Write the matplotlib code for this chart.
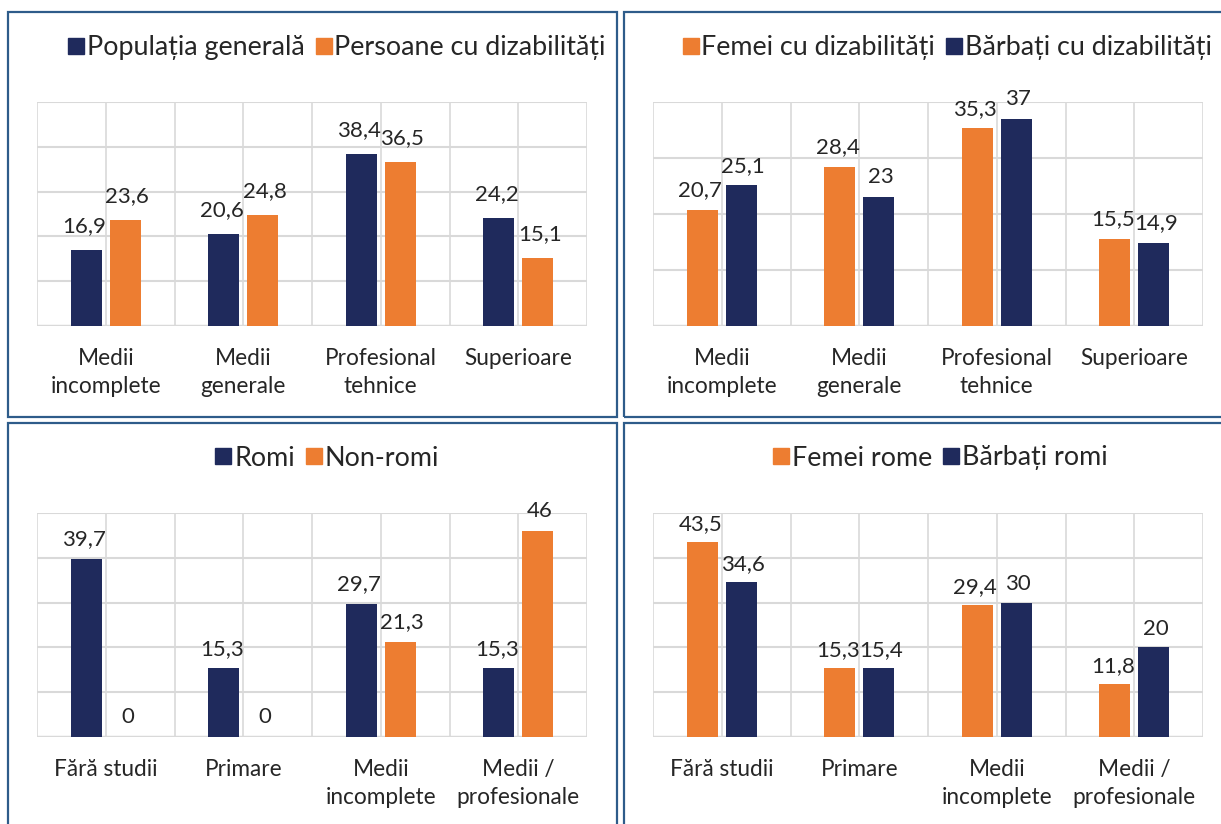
import numpy as np
import matplotlib.pyplot as plt
from matplotlib.patches import Rectangle
from matplotlib.lines import Line2D

navy = "#1F2A5C"
orange = "#ED7D31"
grid_col = "#D9D9D9"
border_col = "#2E5C8A"

plt.rcParams["font.family"] = ["Lato", "DejaVu Sans"]

# data
cats_top = ["Medii\nincomplete", "Medii\ngenerale", "Profesional\ntehnice", "Superioare"]
cats_bottom = ["Fără studii", "Primare", "Medii\nincomplete", "Medii /\nprofesionale"]

pop_generala = [16.9, 20.6, 38.4, 24.2]
pers_dizab = [23.6, 24.8, 36.5, 15.1]

femei_dizab = [20.7, 28.4, 35.3, 15.5]
barbati_dizab = [25.1, 23.0, 37.0, 14.9]

romi = [39.7, 15.3, 29.7, 15.3]
non_romi = [0, 0, 21.3, 46]

femei_rome = [43.5, 15.3, 29.4, 11.8]
barbati_romi = [34.6, 15.4, 30, 20]

W, H = 1221, 824
fig = plt.figure(figsize=(W / 100, H / 100), dpi=100)


def px_axes(x0, y0, x1, y1):
    return fig.add_axes([x0 / W, 1 - y1 / H, (x1 - x0) / W, (y1 - y0) / H])


def fmt(v):
    s = ("%.1f" % v).rstrip("0").rstrip(".")
    return s.replace(".", ",")


def panel(box, cats, s1, s2, names, colors, ymax, step, leg_xy, lab_off):
    ax = px_axes(*box)
    x = np.arange(len(cats))
    w = 0.225
    off = 0.142
    b1 = ax.bar(x - off, s1, w, color=colors[0], zorder=3)
    b2 = ax.bar(x + off, s2, w, color=colors[1], zorder=3)
    for bars, vals, dx in ((b1, s1, -1.5), (b2, s2, 1.5)):
        for b, v in zip(bars, vals):
            ax.annotate(fmt(v), (b.get_x() + b.get_width() / 2, v),
                        xytext=(dx, lab_off), textcoords="offset points",
                        ha="center", va="bottom", fontsize=16, color="#262626")
    ax.set_xlim(-0.5, len(cats) - 0.5)
    ax.set_ylim(0, ymax)
    for yv in np.arange(step, ymax + 0.1, step):
        ax.axhline(yv, color=grid_col, lw=1.5, zorder=1)
    for xv in np.arange(-0.5, len(cats) - 0.4, 0.5):
        ax.axvline(xv, color=grid_col, lw=1.2, zorder=1)
    ax.axhline(0, color=grid_col, lw=2.5, zorder=2)
    for sp in ax.spines.values():
        sp.set_visible(False)
    ax.set_yticks([])
    ax.set_xticks(x)
    ax.set_xticklabels(cats, fontsize=16.3, color="#262626", linespacing=1.4)
    ax.tick_params(axis="x", length=0, pad=16)
    handles = [Line2D([], [], marker="s", ls="", color=c, markersize=12) for c in colors]
    ax.legend(handles, names, loc="center", bbox_to_anchor=(leg_xy[0] / W, 1 - leg_xy[1] / H),
              bbox_transform=fig.transFigure, ncol=2, frameon=False, fontsize=19.4,
              handlelength=0.6, handletextpad=0.1, columnspacing=0.4,
              labelcolor="#262626")
    return ax


panel((37, 102, 587, 326), cats_top, pop_generala, pers_dizab,
      ["Populația generală", "Persoane cu dizabilități"], [navy, orange], 50, 10, (337, 48), 10)
panel((653, 102, 1203, 326), cats_top, femei_dizab, barbati_dizab,
      ["Femei cu dizabilități", "Bărbați cu dizabilități"], [orange, navy], 40, 10, (947, 48), 7)
panel((37, 513, 587, 737), cats_bottom, romi, non_romi,
      ["Romi", "Non-romi"], [navy, orange], 50, 10, (327, 458), 7)
panel((653, 513, 1203, 737), cats_bottom, femei_rome, barbati_romi,
      ["Femei rome", "Bărbați romi"], [orange, navy], 50, 10, (940, 458), 6)

# panel borders
for (x0, y0, x1, y1) in [(8, 12, 617, 417), (624, 12, 1230, 417),
                         (8, 423, 617, 830), (624, 423, 1230, 830)]:
    fig.patches.append(Rectangle((x0 / W, 1 - y1 / H), (x1 - x0) / W, (y1 - y0) / H,
                                 transform=fig.transFigure, fill=False,
                                 edgecolor=border_col, lw=1.6))

fig.savefig("out.png", dpi=100)
